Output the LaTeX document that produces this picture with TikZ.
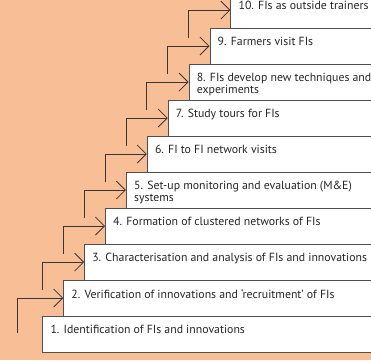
\documentclass[tikz,border=0pt]{standalone}
\usepackage{fontspec}
\setmainfont{PT Sans}
\usetikzlibrary{arrows.meta}

\begin{document}
\begin{tikzpicture}[x=1pt, y=-1pt, >={Straight Barb[length=9pt, width=18pt]}]
    % Colours
    \definecolor{peachbg}{RGB}{248, 190, 150} % background
    \definecolor{boxline}{RGB}{80, 80, 80}    % box edges
    \definecolor{arrowline}{RGB}{55, 55, 55}  % connectors

    \tikzset{
        fibox/.style={rectangle, draw=boxline, fill=white, line width=0.9pt,
            anchor=north west, minimum height=36pt, inner sep=0pt},
        filabel/.style={anchor=north west, align=left, inner sep=0pt,
            font=\fontsize{11.8}{12}\selectfont, text=black!85},
        fiarrow/.style={->, draw=arrowline, line width=0.8pt}
    }

    % 1. Background and frame
    \useasboundingbox (0,0) rectangle (371,360);
    \clip (0,0) rectangle (371,360);
    \fill[peachbg] (0,0) rectangle (371,360);

    % Macro for one step of the staircase
    % \fistep{name}{left}{top}{text}
    \newcommand{\fistep}[4]{
        \node[fibox, minimum width={(430-#2)*1pt}] (#1) at (#2, #3) {};
        \node[filabel] (#1t) at (#2+8, #3+9.7) {#4};
    }

    % 2. Steps (bottom to top)
    \fistep{b1}{42.3}{315.6}{1. Identification of FIs and innovations}
    \fistep{b2}{63.2}{279.6}{2. Verification of innovations and ‘recruitment’ of FIs}
    \fistep{b3}{84.1}{243.6}{3. Characterisation and analysis of FIs and innovations}
    \fistep{b4}{105.0}{207.6}{4. Formation of clustered networks of FIs}
    \fistep{b5}{125.9}{171.6}{5. Set-up monitoring and evaluation (M\&E)\\systems}
    \fistep{b6}{146.8}{135.6}{6. FI to FI network visits}
    \fistep{b7}{167.7}{99.6}{7. Study tours for FIs}
    \fistep{b8}{188.6}{63.6}{8. FIs develop new techniques and\\experiments}
    \fistep{b9}{209.5}{27.6}{9. Farmers visit FIs}
    \fistep{b10}{230.4}{-8.4}{10. FIs as outside trainers}

    % 3. Connectors between the steps
    \path (b1.north west) ++(-24.6, 17.4) coordinate (s1);
    \draw[fiarrow] (s1) |- (b2.west);
    \foreach \i [evaluate=\i as \j using int(\i+1)] in {2,...,9} {
        \path (b\i.north west) ++(-20.9, 10) coordinate (s\i);
        \draw[fiarrow] (s\i) |- (b\j.west);
    }

\end{tikzpicture}
\end{document}
